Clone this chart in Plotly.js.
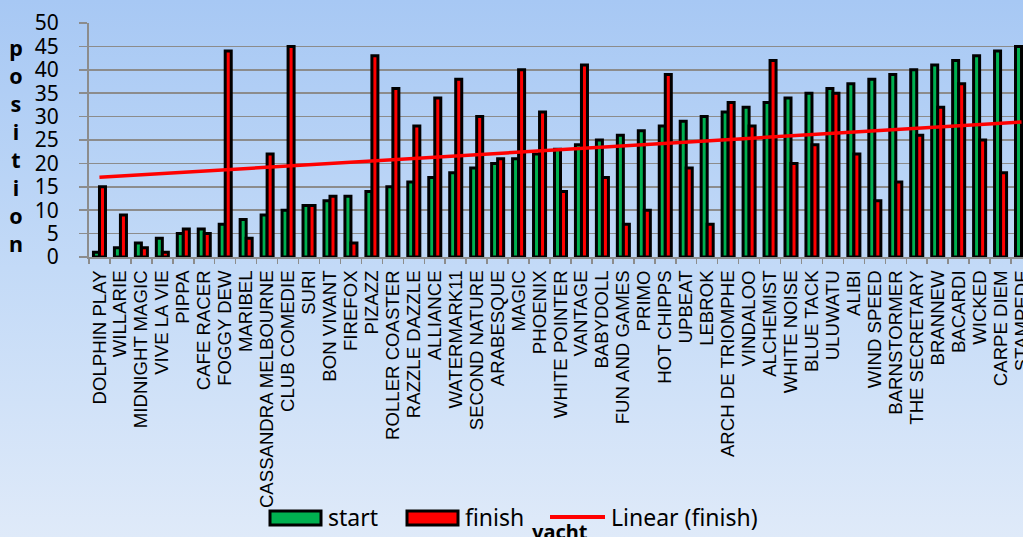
<!DOCTYPE html>
<html>
<head>
<meta charset="utf-8">
<script src="https://cdn.plot.ly/plotly-3.0.1.min.js"></script>
<style>
html,body{margin:0;padding:0;overflow:hidden;}
#wrap{width:1023px;height:537px;overflow:hidden;background:linear-gradient(to bottom,#a7c8f4 0%,#c3daf7 50%,#dfeaf9 100%);}
#chart{width:1040px;height:537px;}
</style>
</head>
<body>
<div id="wrap"><div id="chart"></div></div>
<script>
const categories = ["DOLPHIN PLAY","WILLARIE","MIDNIGHT MAGIC","VIVE LA VIE","PIPPA","CAFE RACER","FOGGY DEW","MARIBEL","CASSANDRA MELBOURNE","CLUB COMEDIE","SURI","BON VIVANT","FIREFOX","PIZAZZ","ROLLER COASTER","RAZZLE DAZZLE","ALLIANCE","WATERMARK11","SECOND NATURE","ARABESQUE","MAGIC","PHOENIX","WHITE POINTER","VANTAGE","BABYDOLL","FUN AND GAMES","PRIMO","HOT CHIPPS","UPBEAT","LEBROK","ARCH DE TRIOMPHE","VINDALOO","ALCHEMIST","WHITE NOISE","BLUE TACK","ULUWATU","ALIBI","WIND SPEED","BARNSTORMER","THE SECRETARY","BRANNEW","BACARDI","WICKED","CARPE DIEM","STAMPEDE"];
const startPos = [1,2,3,4,5,6,7,8,9,10,11,12,13,14,15,16,17,18,19,20,21,22,23,24,25,26,27,28,29,30,31,32,33,34,35,36,37,38,39,40,41,42,43,44,45];
const finishPos = [15,9,2,1,6,5,44,4,22,45,11,13,3,43,36,28,34,38,30,21,40,31,14,41,17,7,10,39,19,7,33,28,42,20,24,35,22,12,16,26,32,37,25,18,27];
const yTickVals = [0,5,10,15,20,25,30,35,40,45,50];
const yTitle = "position";
const xTitle = "yacht";
const legendNames = ["start","finish","Linear (finish)"];

// least-squares linear trendline of finish vs. category index
const n = finishPos.length;
let sx=0, sy=0, sxy=0, sxx=0;
for (let i=0;i<n;i++){const xi=i+1; sx+=xi; sy+=finishPos[i]; sxy+=xi*finishPos[i]; sxx+=xi*xi;}
const slope = (n*sxy - sx*sy)/(n*sxx - sx*sx);
const intercept = (sy - slope*sx)/n;
const trend = finishPos.map((_,i)=>intercept + slope*(i+1));

const W=1040, H=537, M={l:89, r:8, t:23, b:280};
const pw = W-M.l-M.r, ph = H-M.t-M.b;
const px = x => (x-M.l)/pw;
const py = y => (H-M.b-y)/ph;

const GREEN="#00B050", RED="#FF0000", GRID="#8c8c8c";

const traces = [
  {type:"bar", x:categories, y:startPos, name:legendNames[0],
   marker:{color:GREEN, line:{color:"#000", width:3}}, hoverinfo:"skip"},
  {type:"bar", x:categories, y:finishPos, name:legendNames[1],
   marker:{color:RED, line:{color:"#000", width:3}}, hoverinfo:"skip"},
  {type:"scatter", mode:"lines", x:categories, y:trend, name:legendNames[2],
   line:{color:RED, width:3.5}, hoverinfo:"skip"}
];

const layout = {
  width:W, height:H,
  margin:M,
  paper_bgcolor:"rgba(0,0,0,0)",
  plot_bgcolor:"rgba(0,0,0,0)",
  showlegend:false,
  barmode:"group",
  bargap:0.426,
  bargroupgap:0,
  xaxis:{
    type:"category", automargin:false,
    tickmode:"linear", tick0:0, dtick:1,
    showline:true, linecolor:GRID, linewidth:2,
    ticks:"outside", tickson:"boundaries", ticklen:5, tickcolor:GRID, tickwidth:1.5,
    ticklabelstandoff:4,
    tickangle:-90, tickfont:{family:"Liberation Sans, Arial, sans-serif", size:18.6, color:"#000"},
    showgrid:false, zeroline:false, fixedrange:true
  },
  yaxis:{
    range:[0,50], tickvals:yTickVals, automargin:false,
    showgrid:true, gridcolor:GRID, gridwidth:1.5,
    showline:true, linecolor:GRID, linewidth:2,
    ticks:"outside", ticklen:8, tickcolor:GRID, tickwidth:1.5,
    ticklabelstandoff:16,
    tickfont:{family:"Noto Sans, sans-serif", size:21, color:"#000"},
    zeroline:false, fixedrange:true
  },
  shapes:[
    {type:"rect", xref:"paper", yref:"paper", x0:px(270), x1:px(321), y0:py(525), y1:py(511),
     fillcolor:GREEN, line:{color:"#000", width:3}},
    {type:"rect", xref:"paper", yref:"paper", x0:px(407), x1:px(458), y0:py(525), y1:py(511),
     fillcolor:RED, line:{color:"#000", width:3}},
    {type:"line", xref:"paper", yref:"paper", x0:px(550), x1:px(605), y0:py(517), y1:py(517),
     line:{color:RED, width:4}}
  ],
  annotations:[
    {xref:"paper", yref:"paper", x:px(326), y:py(517), xanchor:"left", yanchor:"middle", showarrow:false,
     text:legendNames[0], font:{family:"Noto Sans, sans-serif", size:23, color:"#000"}},
    {xref:"paper", yref:"paper", x:px(463), y:py(517), xanchor:"left", yanchor:"middle", showarrow:false,
     text:legendNames[1], font:{family:"Noto Sans, sans-serif", size:23, color:"#000"}},
    {xref:"paper", yref:"paper", x:px(609), y:py(517), xanchor:"left", yanchor:"middle", showarrow:false,
     text:legendNames[2], font:{family:"Noto Sans, sans-serif", size:23, color:"#000"}},
    {xref:"paper", yref:"paper", x:px(560), y:py(531), xanchor:"center", yanchor:"middle", showarrow:false,
     text:"<b>"+xTitle+"</b>", font:{family:"Noto Sans, sans-serif", size:20, color:"#000"}},
    {xref:"paper", yref:"paper", x:px(16), y:py(145), xanchor:"center", yanchor:"middle", showarrow:false,
     align:"center", text:"<b>"+yTitle.split("").join("<br>")+"</b>",
     font:{family:"Noto Sans, sans-serif", size:21.5, color:"#000"}}
  ]
};

Plotly.newPlot("chart", traces, layout, {displayModeBar:false, staticPlot:true});
</script>
</body>
</html>
